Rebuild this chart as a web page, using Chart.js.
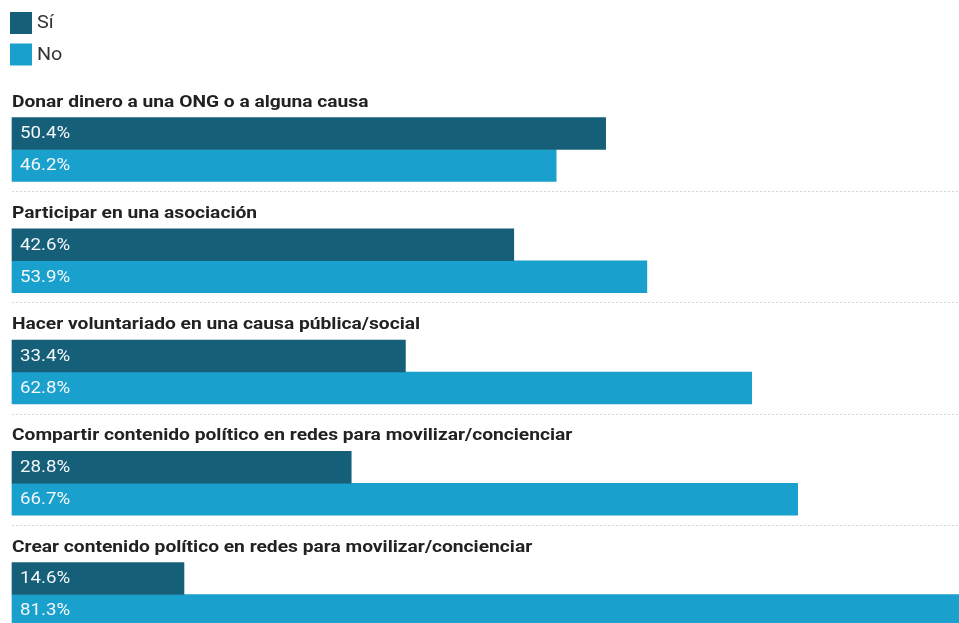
<!DOCTYPE html>
<html lang="es">
<head>
    <meta charset="UTF-8">
    <title>Participación social</title>
    <script src="https://cdn.jsdelivr.net/npm/chart.js"></script>
    <style>
        html, body {
            margin: 0;
            padding: 0;
            background: #fff;
            overflow: hidden;
        }
        .chart-container {
            width: 959px;
            height: 623px;
        }
    </style>
</head>
<body>
    <div class="chart-container">
        <canvas id="myChart"></canvas>
    </div>

    <script>
        const categories = [
            'Donar dinero a una ONG o a alguna causa',
            'Participar en una asociación',
            'Hacer voluntariado en una causa pública/social',
            'Compartir contenido político en redes para movilizar/concienciar',
            'Crear contenido político en redes para movilizar/concienciar'
        ];
        const seriesNames = ['Sí', 'No'];
        const siValues = [50.4, 42.6, 33.4, 28.8, 14.6];
        const noValues = [46.2, 53.9, 62.8, 66.7, 81.3];
        const seriesColors = ['#165f79', '#19a0cd'];

        // the reference text is a bit wider than Roboto, so stretch it horizontally
        function drawText(ctx, text, x, y, sx) {
            ctx.save();
            ctx.translate(x, y);
            ctx.scale(sx, 1);
            ctx.fillText(text, 0, 0);
            ctx.restore();
        }

        // titles, separators, value labels and legend drawn on the canvas
        const decorations = {
            id: 'decorations',
            afterDatasetsDraw(chart) {
                const ctx = chart.ctx;
                const area = chart.chartArea;
                const yScale = chart.scales.y;
                ctx.save();

                // legend
                ctx.font = '18px Roboto';
                ctx.textBaseline = 'middle';
                seriesNames.forEach((name, i) => {
                    const top = 12 + i * 31.5;
                    ctx.fillStyle = seriesColors[i];
                    ctx.fillRect(10, top, 22, 22);
                    ctx.fillStyle = '#333';
                    drawText(ctx, name, 37, top + 11.5, 1.1);
                });

                // group titles and separators
                categories.forEach((cat, i) => {
                    const center = yScale.getPixelForValue(i);
                    ctx.fillStyle = '#222';
                    ctx.font = 'bold 16px Roboto';
                    ctx.textBaseline = 'alphabetic';
                    drawText(ctx, cat, 12, center - 43, 1.2);

                    if (i < categories.length - 1) {
                        const ly = Math.round(center + 41.5) + 0.5;
                        ctx.strokeStyle = '#d6d6d6';
                        ctx.lineWidth = 1;
                        ctx.setLineDash([2, 2]);
                        ctx.beginPath();
                        ctx.moveTo(12, ly);
                        ctx.lineTo(chart.width, ly);
                        ctx.stroke();
                        ctx.setLineDash([]);
                    }
                });

                // value labels inside bars
                ctx.font = '17px Roboto';
                ctx.textBaseline = 'middle';
                ctx.fillStyle = '#f4f8fa';
                chart.data.datasets.forEach((ds, di) => {
                    chart.getDatasetMeta(di).data.forEach((bar, j) => {
                        drawText(ctx, ds.data[j].toFixed(1) + '%', area.left + 8, bar.y + 0.5, 1.1);
                    });
                });

                ctx.restore();
            }
        };

        const ctx = document.getElementById('myChart').getContext('2d');
        new Chart(ctx, {
            type: 'bar',
            data: {
                labels: categories,
                datasets: [{
                    label: seriesNames[0],
                    data: siValues,
                    backgroundColor: seriesColors[0],
                    barThickness: 32,
                    clip: false
                }, {
                    label: seriesNames[1],
                    data: noValues,
                    backgroundColor: seriesColors[1],
                    barThickness: 32,
                    clip: false
                }]
            },
            options: {
                indexAxis: 'y',
                responsive: true,
                maintainAspectRatio: false,
                animation: false,
                layout: {
                    padding: { top: 149.5, left: 12, right: 0, bottom: 28.5 }
                },
                scales: {
                    x: { display: false, min: 0, max: 80.4 },
                    y: { display: false, offset: false }
                },
                plugins: {
                    legend: { display: false },
                    tooltip: { enabled: false }
                }
            },
            plugins: [decorations]
        });
    </script>
</body>
</html>
